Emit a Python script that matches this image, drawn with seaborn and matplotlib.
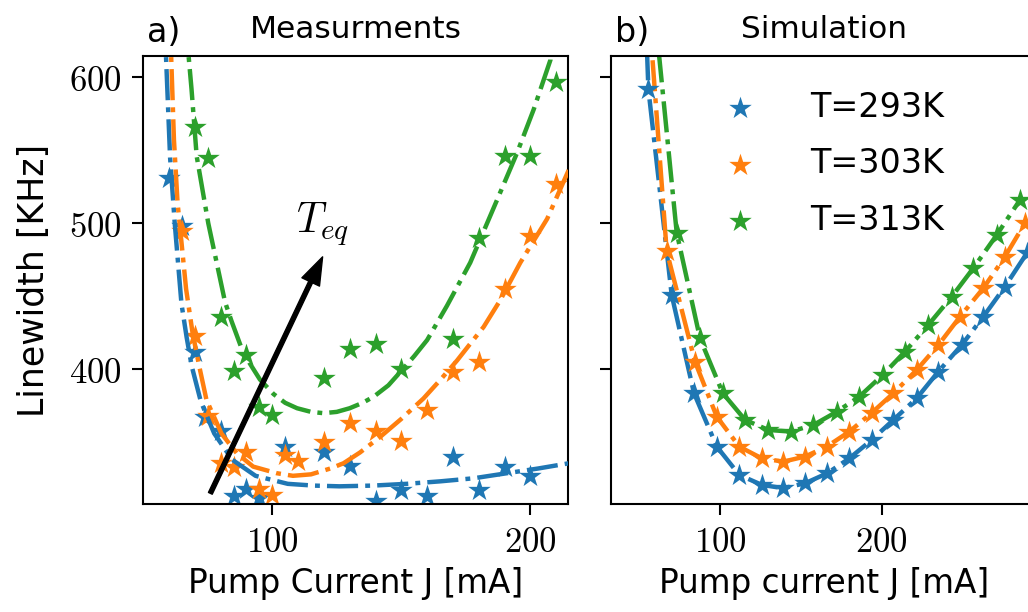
import numpy as np
import pandas as pd
import matplotlib
matplotlib.use('Agg')
import matplotlib.pyplot as plt
import seaborn as sns

# ---- measured data (panel a) ----
j_meas_293 = [60, 65, 70, 74, 80, 85, 90, 95, 105, 120, 130, 140, 150, 160, 170, 180, 190, 200]
lw_meas_293 = [531, 498, 412, 367, 358, 313, 318, 312, 347, 343, 334, 310, 317, 313, 340, 317, 333, 327]

j_meas_303 = [65, 70, 75, 80, 85, 90, 95, 100, 105, 110, 120, 130, 140, 150, 160, 170, 180, 190, 200, 210]
lw_meas_303 = [495, 423, 368, 336, 333, 343, 318, 314, 341, 337, 350, 363, 358, 351, 372, 398, 405, 455, 491, 527]

j_meas_313 = [70, 75, 80, 85, 90, 95, 100, 120, 130, 140, 150, 170, 180, 190, 200, 210]
lw_meas_313 = [566, 545, 436, 399, 410, 374, 369, 394, 414, 417, 400, 421, 490, 546, 546, 597]

# ---- fitted curves (panel a) ----
j_fit_293 = [58.3, 58.8, 60.4, 62.2, 64.8, 66.8, 68.8, 72.3, 77.5, 84.5, 93.5, 106, 116, 126, 139, 152,
             165, 178, 191, 203, 215]
lw_fit_293 = [640, 615, 545, 500, 445, 422, 402, 378, 356, 338, 327, 321.5, 320.3, 319.8, 320.3, 321.5,
              323.2, 325.3, 328.8, 332, 335.6]

j_fit_303 = [60.3, 60.8, 61.9, 63.3, 66.6, 69.1, 71.7, 74.5, 80.3, 86.2, 92.6, 101.7, 108, 115, 122.5,
             127.6, 134, 141.9, 150, 158.6, 165, 171.6, 176.5, 181.9, 188.4, 196.1, 206.5, 215]
lw_fit_303 = [640, 615, 557, 514, 455, 425, 402, 379, 356, 342.5, 333.3, 328.8, 327, 328, 332,
              335.6, 343, 353.8, 366, 380, 392.5, 406, 417, 429, 447.5, 473, 503, 537]

j_fit_313 = [67.3, 67.6, 68.7, 70.7, 75.2, 81.7, 84.2, 88.8, 95.2, 100.5, 105, 109.6, 115, 119.9, 125,
             130, 135, 139.3, 145, 150.3, 155, 160, 167.7, 176.7, 187.1, 194.8, 201.3, 207.8, 208.5]
lw_fit_313 = [640, 614, 592, 546, 500, 446, 433, 411, 393, 383, 377, 373.3, 370.8, 369.9, 370.8,
              373.3, 377, 381.2, 389, 399.5, 409, 420, 443.5, 473, 516, 548, 578, 612, 640]

# ---- simulation (panel b) ----
j_sim_293 = [42, 55.7, 70.1, 83.9, 98, 111.9, 125.8, 139.1, 152.6, 166.4, 180, 193.8, 207.2, 221.6,
             235, 249.5, 262.8, 276.2, 289.7]
lw_sim_293 = [1000, 591.8, 450.9, 383.6, 347, 327.6, 320.8, 318.5, 321.9, 328.8, 339, 351.6, 365.3,
              380.1, 398.4, 416.7, 436, 456.6, 479.5]

j_sim_303 = [56, 67, 84.5, 98, 111.9, 125.8, 139.1, 152.6, 166, 180, 193.8, 207.2, 221.6, 235,
             248.4, 262.8, 276.2, 288.5]
lw_sim_303 = [646, 481, 405.2, 367.5, 347, 339, 336.7, 340.2, 347, 357.3, 370.1, 383.6, 399.5, 416.6,
              436, 455.5, 477.1, 500]

j_sim_313 = [59, 73.2, 87.6, 101.7, 115.5, 129.9, 143.7, 157.7, 172.2, 186.1, 200.6, 214.4, 228.8,
             243.3, 256.6, 271.1, 285.5]
lw_sim_313 = [652, 493.6, 421.2, 383.6, 365.3, 358.4, 357.3, 361.8, 370.9, 381.2, 396.1, 412.1, 430.4,
              449.7, 469.2, 492, 516]

labels = ['T=293K', 'T=303K', 'T=313K']
colors = sns.color_palette('tab10', 3)

sns.set_theme(style='ticks')
plt.rcParams['font.family'] = ['DejaVu Sans']
plt.rcParams['mathtext.fontset'] = 'cm'
plt.rcParams['text.color'] = 'black'
plt.rcParams['axes.labelcolor'] = 'black'

dashdot = (0, (7, 1.6, 1.1, 1.6))

fig = plt.figure(figsize=(10.28, 6.12), dpi=100)
ax1 = fig.add_axes([0.1391, 0.1765, 0.4137, 0.7320])
ax2 = fig.add_axes([0.5944, 0.1765, 0.4137, 0.7320])

meas = [(j_meas_293, lw_meas_293), (j_meas_303, lw_meas_303), (j_meas_313, lw_meas_313)]
fits = [(j_fit_293, lw_fit_293), (j_fit_303, lw_fit_303), (j_fit_313, lw_fit_313)]
sims = [(j_sim_293, lw_sim_293), (j_sim_303, lw_sim_303), (j_sim_313, lw_sim_313)]

for (jm, lm), (jf, lf), c in zip(meas, fits, colors):
    sns.scatterplot(x=jm, y=lm, marker='*', s=290, color=c, linewidth=0, ax=ax1, zorder=2)
    sns.lineplot(x=jf, y=lf, color=c, lw=3.2, linestyle=dashdot, sort=False, estimator=None, ax=ax1, zorder=3)

for (js, ls), c, lab in zip(sims, colors, labels):
    sns.lineplot(x=js, y=ls, color=c, lw=3.2, linestyle=dashdot, sort=False, estimator=None, ax=ax2, zorder=2)
    sns.scatterplot(x=js, y=ls, marker='*', s=290, color=c, linewidth=0, ax=ax2, zorder=3, label=lab)

# arrow showing temperature increase
ax1.annotate('', xy=(119.5, 477), xytext=(76, 315),
             arrowprops=dict(facecolor='black', edgecolor='black', width=3, headwidth=14,
                             headlength=20, shrink=0))
ax1.text(119.5, 499, r'$T_{eq}$', fontsize=30, ha='center', va='center')

ylim = (307.7, 614.6)
ax1.set_xlim(49.9, 214.7)
ax2.set_xlim(32.6, 295.6)
for ax in (ax1, ax2):
    ax.set_ylim(*ylim)
    ax.set_xticks([100, 200])
    ax.set_xticklabels([r'$100$', r'$200$'])
    ax.set_yticks([400, 500, 600])
    ax.tick_params(length=8, width=1.5, labelsize=25, pad=7, colors='black')
    for sp in ax.spines.values():
        sp.set_linewidth(1.5)
        sp.set_color('black')

ax1.set_yticklabels([r'$400$', r'$500$', r'$600$'])
ax2.set_yticklabels([])

ax1.set_title('Measurments', fontsize=22.5, pad=13)
ax2.set_title('Simulation', fontsize=22.5, pad=13)
for ax, tag in ((ax1, 'a)'), (ax2, 'b)')):
    ax.annotate(tag, xy=(0, 1), xycoords='axes fraction', xytext=(3, 10),
                textcoords='offset points', fontsize=24, ha='left', va='baseline')
ax1.set_xlabel('Pump Current J [mA]', fontsize=23.5, labelpad=6)
ax2.set_xlabel('Pump current J [mA]', fontsize=23.5, labelpad=6)
ax1.set_ylabel('Linewidth [KHz]', fontsize=25, labelpad=13)

ax2.legend(loc='upper left', bbox_to_anchor=(0.226, 0.922), frameon=False, fontsize=24,
           handlelength=2.0, handletextpad=1.08, borderpad=0, borderaxespad=0, labelspacing=0.7)

fig.savefig('out.png', dpi=100)
